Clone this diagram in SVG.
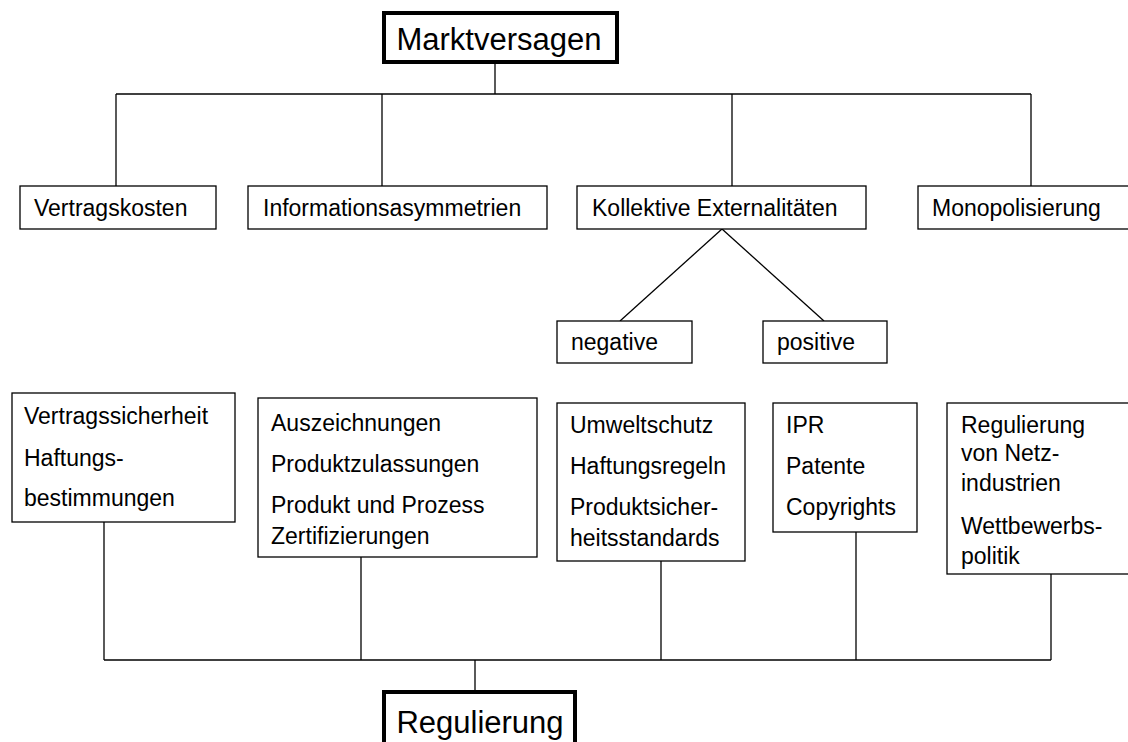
<svg xmlns="http://www.w3.org/2000/svg" width="1128" height="742" viewBox="0 0 1128 742">
<style>
.b{fill:#fff;stroke:#000;stroke-width:1.3}
.h{fill:#fff;stroke:#000;stroke-width:4}
.t{font-family:"Liberation Sans",Arial,sans-serif;font-size:23px;fill:#000}
.T{font-family:"Liberation Sans",Arial,sans-serif;font-size:31px;fill:#000}
.c{stroke:#000;stroke-width:1.3;fill:none}
</style>
<rect width="1128" height="742" fill="#fff"/>
<g id="connectors">
<line class="c" x1="495" y1="64" x2="495" y2="94"/>
<line class="c" x1="116" y1="94" x2="1031" y2="94"/>
<line class="c" x1="116" y1="94" x2="116" y2="186"/>
<line class="c" x1="382" y1="94" x2="382" y2="186"/>
<line class="c" x1="732" y1="94" x2="732" y2="186"/>
<line class="c" x1="1031" y1="94" x2="1031" y2="186"/>
<line class="c" x1="722" y1="229" x2="620" y2="321"/>
<line class="c" x1="722" y1="229" x2="824" y2="321"/>
<line class="c" x1="104" y1="516" x2="104" y2="660"/>
<line class="c" x1="361" y1="557" x2="361" y2="660"/>
<line class="c" x1="661" y1="561" x2="661" y2="660"/>
<line class="c" x1="856" y1="532" x2="856" y2="660"/>
<line class="c" x1="1051" y1="574" x2="1051" y2="660"/>
<line class="c" x1="104" y1="660" x2="1051" y2="660"/>
<line class="c" x1="475" y1="660" x2="475" y2="692"/>
</g>
<g id="marktversagen">
<rect class="h" x="384" y="13" width="233" height="49"/>
<text class="T" x="499" y="50" text-anchor="middle">Marktversagen</text>
</g>
<g id="vertragskosten">
<rect class="b" x="20" y="186" width="196" height="43"/>
<text class="t" x="34" y="216">Vertragskosten</text>
</g>
<g id="informationsasymmetrien">
<rect class="b" x="248" y="186" width="299" height="43"/>
<text class="t" x="263" y="216">Informationsasymmetrien</text>
</g>
<g id="externalitaeten">
<rect class="b" x="577" y="186" width="289" height="43"/>
<text class="t" x="592" y="216">Kollektive Externalitäten</text>
</g>
<g id="monopolisierung">
<rect class="b" x="918" y="186" width="222" height="43"/>
<text class="t" x="932" y="216">Monopolisierung</text>
</g>
<g id="negative">
<rect class="b" x="557" y="321" width="135" height="42"/>
<text class="t" x="571" y="350">negative</text>
</g>
<g id="positive">
<rect class="b" x="763" y="321" width="124" height="42"/>
<text class="t" x="777" y="350">positive</text>
</g>
<g id="vertragssicherheit">
<rect class="b" x="12" y="393" width="223" height="129"/>
<text class="t" x="24" y="424">Vertragssicherheit</text>
<text class="t" x="24" y="466">Haftungs-</text>
<text class="t" x="24" y="506">bestimmungen</text>
</g>
<g id="auszeichnungen">
<rect class="b" x="258" y="398" width="279" height="159"/>
<text class="t" x="271" y="431">Auszeichnungen</text>
<text class="t" x="271" y="472">Produktzulassungen</text>
<text class="t" x="271" y="513">Produkt und Prozess</text>
<text class="t" x="271" y="544">Zertifizierungen</text>
</g>
<g id="umweltschutz">
<rect class="b" x="557" y="403" width="188" height="158"/>
<text class="t" x="570" y="433">Umweltschutz</text>
<text class="t" x="570" y="474">Haftungsregeln</text>
<text class="t" x="570" y="515">Produktsicher-</text>
<text class="t" x="570" y="546">heitsstandards</text>
</g>
<g id="ipr">
<rect class="b" x="773" y="403" width="144" height="129"/>
<text class="t" x="786" y="433">IPR</text>
<text class="t" x="786" y="474">Patente</text>
<text class="t" x="786" y="515">Copyrights</text>
</g>
<g id="netzindustrien">
<rect class="b" x="947" y="403" width="200" height="171"/>
<text class="t" x="961" y="433">Regulierung</text>
<text class="t" x="961" y="461">von Netz-</text>
<text class="t" x="961" y="491">industrien</text>
<text class="t" x="961" y="534">Wettbewerbs-</text>
<text class="t" x="961" y="564">politik</text>
</g>
<g id="regulierung">
<rect class="h" x="384" y="692" width="191" height="60"/>
<text class="T" x="480" y="733" text-anchor="middle">Regulierung</text>
</g>
</svg>
